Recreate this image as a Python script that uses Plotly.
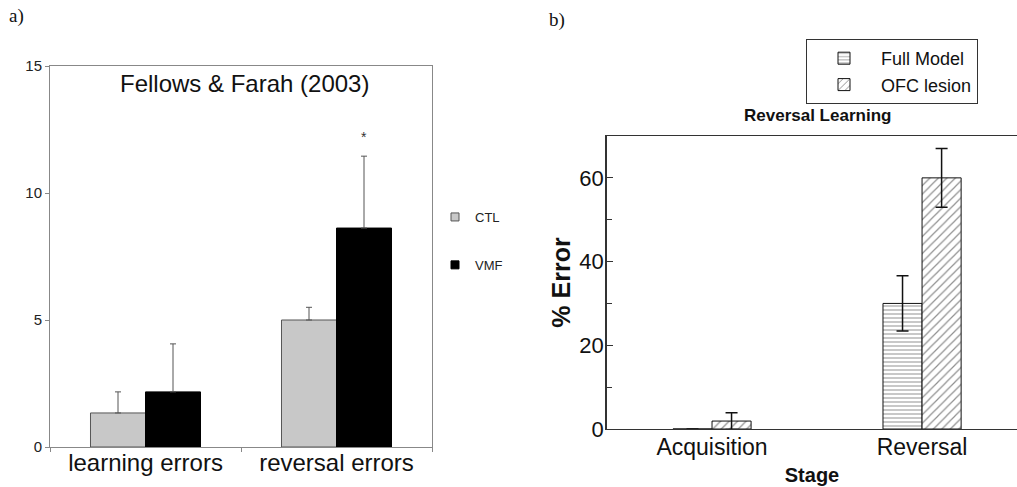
import plotly.graph_objects as go

W, H = 1017, 487

# ---------------- data: panel a (Fellows & Farah 2003) ----------------
a_categories = ["learning errors", "reversal errors"]
a_ctl = [1.34, 5.0]
a_ctl_err = [0.83, 0.5]
a_vmf = [2.17, 8.62]
a_vmf_err = [1.89, 2.83]
a_ticks = [0, 5, 10, 15]

# ---------------- data: panel b (model) ----------------
b_categories = ["Acquisition", "Reversal"]
b_full = [0.0, 30.0]
b_full_err = [0.0, 6.6]
b_ofc = [1.9, 60.0]
b_ofc_err = [2.0, 7.0]
b_ticks = [0, 20, 40, 60]
b_minor_ticks = [10, 30, 50]

SANS = "Liberation Sans, Arial, sans-serif"
SERIF = "Liberation Serif, Times New Roman, serif"


def px_x(p):
    return p / W


def px_y(p):
    return 1 - p / H


fig = go.Figure()

# panel a bars
wa = 0.288
fig.add_trace(go.Bar(
    x=a_categories, y=a_ctl, width=wa, offset=-wa, xaxis="x", yaxis="y",
    marker=dict(color="#c8c8c8", line=dict(color="#555555", width=1)),
    error_y=dict(type="data", array=a_ctl_err, arrayminus=[0] * len(a_ctl_err),
                 symmetric=False, color="#555555", thickness=1, width=3),
    showlegend=False, name="CTL"))
fig.add_trace(go.Bar(
    x=a_categories, y=a_vmf, width=wa, offset=0, xaxis="x", yaxis="y",
    marker=dict(color="#000000", line=dict(color="#000000", width=1)),
    error_y=dict(type="data", array=a_vmf_err, arrayminus=[0] * len(a_vmf_err),
                 symmetric=False, color="#555555", thickness=1, width=3),
    showlegend=False, name="VMF"))
# legend entries for panel a
fig.add_trace(go.Scatter(x=[None], y=[None], mode="markers", name="CTL",
                         marker=dict(symbol="square", size=8, color="#c8c8c8",
                                     line=dict(color="#555555", width=1)),
                         legend="legend", legendgroup="ctl", xaxis="x", yaxis="y"))
fig.add_trace(go.Scatter(x=[None], y=[None], mode="markers", name="VMF",
                         marker=dict(symbol="square", size=8, color="#000000",
                                     line=dict(color="#000000", width=1)),
                         legend="legend", legendgroup="vmf", xaxis="x", yaxis="y"))

# panel b bars
wb = 0.186
fig.add_trace(go.Bar(
    x=b_categories, y=b_full, width=wb, offset=-wb, xaxis="x2", yaxis="y2",
    name="Full Model", legend="legend2",
    marker=dict(color="white", line=dict(color="#111111", width=1),
                pattern=dict(shape="-", size=4, solidity=0.25,
                             fgcolor="#222222", bgcolor="white")),
    error_y=dict(type="data", array=b_full_err, color="#111111", thickness=1.5, width=6)))
fig.add_trace(go.Bar(
    x=b_categories, y=b_ofc, width=wb, offset=0, xaxis="x2", yaxis="y2",
    name="OFC lesion", legend="legend2",
    marker=dict(color="white", line=dict(color="#111111", width=1),
                pattern=dict(shape="/", size=6, solidity=0.2,
                             fgcolor="#222222", bgcolor="white")),
    error_y=dict(type="data", array=b_ofc_err, color="#111111", thickness=1.5, width=6)))

fig.update_layout(
    width=W, height=H,
    margin=dict(l=0, r=0, t=0, b=0, autoexpand=False),
    paper_bgcolor="white", plot_bgcolor="white",
    barmode="overlay",
    font=dict(family=SANS, color="#111111"),
    xaxis=dict(domain=[px_x(50), px_x(432)], anchor="y", type="category",
               range=[-0.5, 1.5], showline=True, linecolor="#888888", linewidth=1,
               mirror=True, ticks="outside", tickson="boundaries", ticklen=4,
               tickcolor="#888888", tickfont=dict(size=24, color="#111111"),
               ticklabelstandoff=-6, showgrid=False, zeroline=False),
    yaxis=dict(domain=[px_y(447), px_y(66)], anchor="x", range=[0, 15],
               tickvals=a_ticks, showline=True, linecolor="#888888", linewidth=1,
               mirror=True, ticks="outside", ticklen=4, tickcolor="#888888",
               tickfont=dict(size=15, color="#222222"), showgrid=False, zeroline=False),
    xaxis2=dict(domain=[px_x(607), 1.0], anchor="y2", type="category",
                range=[-0.5, 1.452], showline=True, linecolor="#333333", linewidth=1,
                mirror=True, ticks="", tickfont=dict(size=23, color="#111111"),
                ticklabelstandoff=-3, showgrid=False, zeroline=False,
                title=dict(text="<b>Stage</b>", standoff=9,
                           font=dict(size=20, color="#111111"))),
    yaxis2=dict(domain=[px_y(429), px_y(136)], anchor="x2", range=[0, 70],
                tickvals=b_ticks, showline=True, linecolor="#333333", linewidth=1.5,
                ticks="inside", ticklen=6, tickcolor="#333333",
                minor=dict(tickvals=b_minor_ticks, ticks="inside", ticklen=5,
                           tickcolor="#333333"),
                ticklabelstandoff=-3,
                tickfont=dict(size=22, color="#111111"), showgrid=False, zeroline=False,
                title=dict(text="<b>% Error</b>", standoff=2,
                           font=dict(size=25, color="#111111"))),
    legend=dict(x=px_x(435), y=px_y(241), xanchor="left", yanchor="middle",
                font=dict(size=13, color="#222222"), tracegroupgap=28,
                bgcolor="rgba(0,0,0,0)"),
    legend2=dict(x=px_x(806), y=px_y(39), xanchor="left", yanchor="top",
                 font=dict(size=18, color="#111111"), bordercolor="#333333",
                 borderwidth=1, bgcolor="white", itemwidth=64, tracegroupgap=0),
    annotations=[
        dict(text="Fellows & Farah (2003)", x=px_x(244), y=px_y(83), xref="paper",
             yref="paper", xanchor="center", yanchor="middle", showarrow=False,
             font=dict(size=24, color="#111111")),
        dict(text="*", x=1.144, y=12.2, xref="x", yref="y", xanchor="center",
             yanchor="middle", showarrow=False, font=dict(size=14, color="#333333")),
        dict(text="<b>Reversal Learning</b>", x=px_x(817), y=px_y(115), xref="paper",
             yref="paper", xanchor="center", yanchor="middle", showarrow=False,
             font=dict(size=17, color="#111111")),
        dict(text="a)", x=px_x(7), y=px_y(16), xref="paper", yref="paper",
             xanchor="left", yanchor="middle", showarrow=False,
             font=dict(family=SERIF, size=19, color="#111111")),
        dict(text="b)", x=px_x(547), y=px_y(20), xref="paper", yref="paper",
             xanchor="left", yanchor="middle", showarrow=False,
             font=dict(family=SERIF, size=19, color="#111111")),
    ],
)

fig.write_html("out.html", config={"displayModeBar": False},
               post_script="document.body.style.margin='0px';document.body.style.padding='0px';")
